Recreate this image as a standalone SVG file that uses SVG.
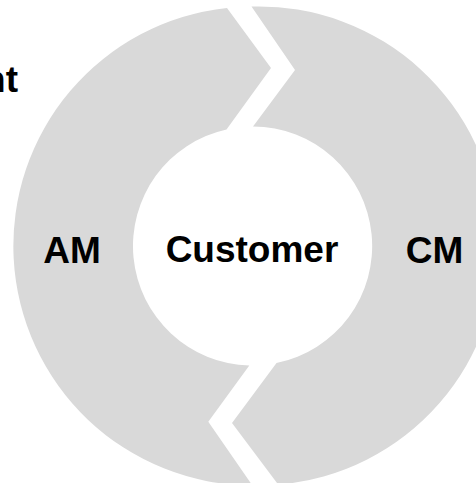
<svg xmlns="http://www.w3.org/2000/svg" width="476" height="483" viewBox="0 0 476 483">
  <style>
    .seg { fill: #d9d9d9; stroke: none; }
    .lbl { font-family: "Liberation Sans", Arial, sans-serif; font-weight: bold; font-size: 37px; fill: #000; text-anchor: middle; }
  </style>
  <rect width="476" height="483" fill="#ffffff"/>

  <!-- partial heading at the left margin -->
  <g id="heading">
    <text class="lbl" x="18" y="91.5" style="text-anchor: end">nt</text>
  </g>

  <!-- left half of the cycle -->
  <g id="am">
    <path class="seg" d="M 227,7.9 A 239.5 239.5 0 0 0 252.4,485.5 L 208.3,421.7 L 249.3,365.5 A 119.5 119.5 0 0 1 226.5,129.4 L 271,68 Z"/>
    <text class="lbl" x="72" y="263">AM</text>
  </g>

  <!-- right half of the cycle -->
  <g id="cm">
    <path class="seg" d="M 251.5,6.5 L 295,70 L 253,126.5 A 119.5 119.5 0 0 1 276.5,363.1 L 232,423 L 278.2,484.6 A 239.5 239.5 0 0 0 251.5,6.5 Z"/>
    <text class="lbl" x="434.5" y="263">CM</text>
  </g>

  <!-- hub -->
  <g id="customer">
    <text class="lbl" x="252" y="262">Customer</text>
  </g>

  <g id="connectors"></g>
</svg>
